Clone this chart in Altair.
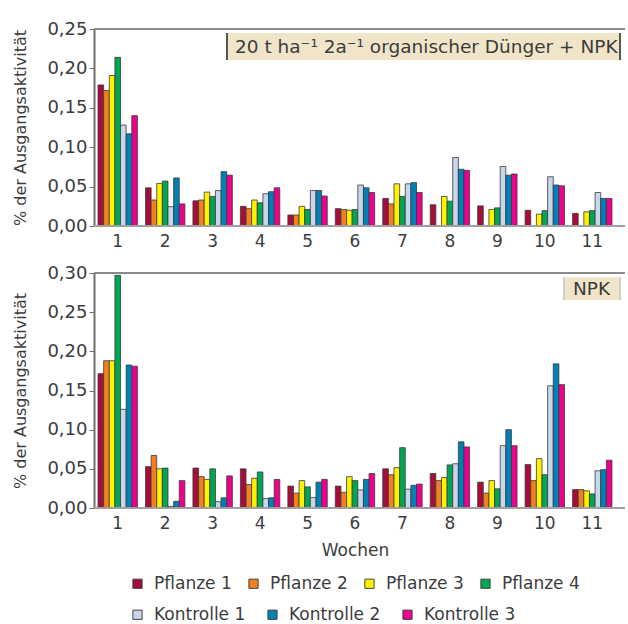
import altair as alt
import pandas as pd

# Weekly activity (% of the initial activity) per plant / control series
weeks = list(range(1, 12))
series = ["Pflanze 1", "Pflanze 2", "Pflanze 3", "Pflanze 4",
          "Kontrolle 1", "Kontrolle 2", "Kontrolle 3"]
colors = ["#a50d3a", "#f28020", "#fff200", "#00a651",
          "#c9d5ea", "#0081b5", "#ec008c"]
plants = series[:4]
controls = series[4:]

# Panel 1: 20 t/ha organic fertiliser + NPK (None = no value measured)
org_p1 = [0.179, 0.0485, 0.032, 0.025, 0.014, 0.022, 0.035, 0.027, 0.0255, 0.020, 0.016]
org_p2 = [0.172, 0.033, 0.033, 0.022, 0.014, 0.021, 0.028, None, None, None, None]
org_p3 = [0.191, 0.054, 0.043, 0.033, 0.025, 0.020, 0.0535, 0.0375, 0.021, 0.015, 0.018]
org_p4 = [0.214, 0.057, 0.0375, 0.0295, 0.021, 0.021, 0.0375, 0.0315, 0.023, 0.0195, 0.0195]
org_k1 = [0.128, 0.0245, 0.045, 0.041, 0.045, 0.052, 0.0535, 0.087, 0.0755, 0.0625, 0.0425]
org_k2 = [0.117, 0.061, 0.069, 0.0435, 0.045, 0.0485, 0.055, 0.072, 0.0645, 0.052, 0.035]
org_k3 = [0.140, 0.028, 0.0645, 0.0485, 0.038, 0.0425, 0.0425, 0.0705, 0.066, 0.051, 0.035]

# Panel 2: NPK only
npk_p1 = [0.1715, 0.0528, 0.051, 0.050, 0.028, 0.028, 0.050, 0.044, 0.033, 0.0555, 0.0235]
npk_p2 = [0.188, 0.067, 0.040, 0.030, 0.019, 0.020, 0.0425, 0.035, 0.019, 0.035, 0.0235]
npk_p3 = [0.188, 0.050, 0.0365, 0.038, 0.035, 0.040, 0.0515, 0.039, 0.035, 0.063, 0.022]
npk_p4 = [0.297, 0.051, 0.050, 0.046, 0.027, 0.035, 0.077, 0.055, 0.0245, 0.0425, 0.018]
npk_k1 = [0.126, 0.002, 0.008, 0.012, 0.0135, 0.023, 0.024, 0.0565, 0.0795, 0.156, 0.0475]
npk_k2 = [0.1825, 0.0085, 0.013, 0.013, 0.033, 0.0365, 0.029, 0.0845, 0.100, 0.184, 0.049]
npk_k3 = [0.181, 0.035, 0.041, 0.0365, 0.0365, 0.044, 0.0305, 0.078, 0.0795, 0.1575, 0.061]

org_tick_values = [0, 0.05, 0.10, 0.15, 0.20, 0.25]
npk_tick_values = [0, 0.05, 0.10, 0.15, 0.20, 0.25, 0.30]

FONT = "DejaVu Sans"
TXT = "#3c3c3c"
AXIS_GREY = "#6e6e6e"
BOX_FILL = "#f1e5c9"

PLOT_W = 522
LINE_W = 531


def long_table(cols):
    rows = []
    for name, vals in zip(series, cols):
        for w, v in zip(weeks, vals):
            if v is not None:
                rows.append({"Woche": w, "Serie": name, "Wert": v})
    return pd.DataFrame(rows)


one = pd.DataFrame({"k": [0]})


def legend_row(y, gap):
    return alt.Legend(
        title=None, orient="none", legendX=35, legendY=y,
        direction="horizontal", symbolType="square", symbolSize=85,
        symbolStrokeColor="#444444", symbolStrokeWidth=1,
        labelFont=FONT, labelFontSize=17, labelColor=TXT,
        columnPadding=gap, labelOffset=8,
    )


def panel(df, top, ticks, height, xtitle, box):
    x_enc = alt.X("Woche:O",
                  scale=alt.Scale(paddingInner=0.17, paddingOuter=0.085),
                  axis=alt.Axis(title=xtitle, labelAngle=0, ticks=False, tickSize=0,
                                domain=False, labelPadding=7, labelFont=FONT,
                                labelFontSize=17, labelColor=TXT, titleFont=FONT,
                                titleFontSize=17, titleFontWeight="normal",
                                titleColor=TXT, titlePadding=11))
    off_enc = alt.XOffset("Serie:N", sort=series,
                          scale=alt.Scale(domain=series, paddingInner=0))
    y_enc = alt.Y("Wert:Q",
                  scale=alt.Scale(domain=[0, top], nice=False, zero=True),
                  axis=alt.Axis(title="% der Ausgangsaktivität", values=ticks,
                                labelExpr="replace(format(datum.value, '.2f'), '.', ',')",
                                grid=False, tickSize=5, tickColor=AXIS_GREY,
                                domainColor=AXIS_GREY, domainWidth=2,
                                labelFont=FONT, labelFontSize=18, labelColor=TXT,
                                labelPadding=2, titleFont=FONT, titleFontSize=16,
                                titleFontWeight="normal", titleColor=TXT,
                                titlePadding=18))

    bar = alt.Chart(df).mark_bar(stroke="#3a3a3a", strokeWidth=0.8)
    # plant series: first legend row, control series: second legend row
    plant_bars = bar.transform_filter(
        alt.FieldOneOfPredicate(field="Serie", oneOf=plants)
    ).encode(
        x=x_enc, xOffset=off_enc, y=y_enc,
        color=alt.Color("Serie:N", sort=plants,
                        scale=alt.Scale(domain=plants, range=colors[:4]),
                        legend=legend_row(546, 13)),
    )
    control_bars = bar.transform_filter(
        alt.FieldOneOfPredicate(field="Serie", oneOf=controls)
    ).encode(
        x=x_enc, xOffset=off_enc, y=y_enc,
        fill=alt.Fill("Serie:N", sort=controls,
                      scale=alt.Scale(domain=controls, range=colors[4:]),
                      legend=legend_row(577, 18)),
    )

    top_line = alt.Chart(one).mark_rule(color="#8a8a8a", strokeWidth=2).encode(
        x=alt.value(0), x2=alt.value(LINE_W), y=alt.value(0))
    base_line = alt.Chart(one).mark_rule(color="#a0a0a0", strokeWidth=2).encode(
        x=alt.value(0), x2=alt.value(LINE_W), y=alt.value(height))

    x0, x1, y0, y1, label, tx, ty, edge = box
    rect = alt.Chart(one).mark_rect(color=BOX_FILL).encode(
        x=alt.value(x0), x2=alt.value(x1), y=alt.value(y0), y2=alt.value(y1))
    left_edge = alt.Chart(one).mark_rule(color=edge, strokeWidth=2).encode(
        x=alt.value(x0), y=alt.value(y0), y2=alt.value(y1))
    right_edge = alt.Chart(one).mark_rule(color=edge, strokeWidth=2).encode(
        x=alt.value(x1), y=alt.value(y0), y2=alt.value(y1))
    text = alt.Chart(one).mark_text(font=FONT, fontSize=18.5, color=TXT,
                                    align="left", baseline="middle").encode(
        x=alt.value(tx), y=alt.value(ty), text=alt.value(label))

    return alt.layer(plant_bars, control_bars, top_line, base_line, rect,
                     left_edge, right_edge, text).properties(width=PLOT_W, height=height)


org = panel(
    long_table([org_p1, org_p2, org_p3, org_p4, org_k1, org_k2, org_k3]),
    0.25, org_tick_values, 197, None,
    (133, 526, 4, 31, "20 t ha⁻¹ 2a⁻¹ organischer Dünger + NPK", 141, 17.5, "#555555"),
)
npk = panel(
    long_table([npk_p1, npk_p2, npk_p3, npk_p4, npk_k1, npk_k2, npk_k3]),
    0.30, npk_tick_values, 235, "Wochen",
    (470, 526, 4, 27, "NPK", 479, 16, "#cfcfcf"),
)

chart = alt.vconcat(org, npk, spacing=15).resolve_scale(
    y="independent", x="independent"
).properties(
    padding={"left": 12, "top": 20, "right": 0, "bottom": 0},
    background="white",
).configure_view(stroke=None)

chart.save("out.html", embed_options={"renderer": "svg", "actions": False})
